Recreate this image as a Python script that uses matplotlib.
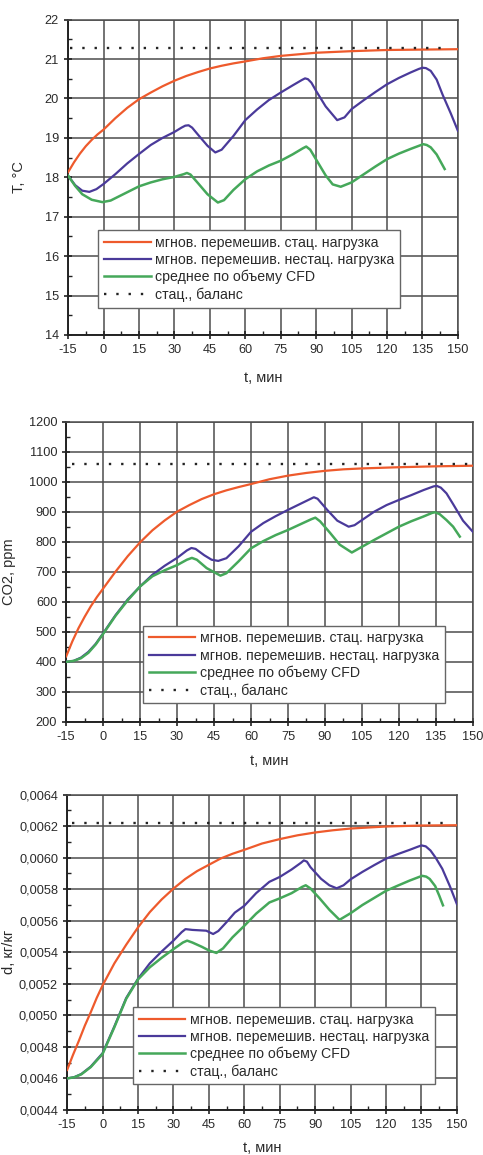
import numpy as np
import matplotlib.pyplot as plt
from matplotlib.ticker import MultipleLocator, FuncFormatter

plt.rcParams['font.family'] = ['Liberation Sans', 'DejaVu Sans']
plt.rcParams['axes.unicode_minus'] = False

# --- температура T, °C ---
t_ust_T = [-15, -12.5, -10, -7.5, -5, -2.5, 0, 5, 10, 15, 20, 25, 30, 35, 40, 45, 50, 55, 60,
           67.5, 75, 82.5, 90, 97.5, 105, 120, 135, 150]
T_ust = [18.13, 18.38, 18.6, 18.79, 18.95, 19.09, 19.21, 19.5, 19.76, 19.98, 20.15, 20.31,
         20.45, 20.57, 20.67, 20.76, 20.83, 20.89, 20.94, 21.02, 21.08, 21.12, 21.16, 21.18,
         21.2, 21.23, 21.24, 21.25]
t_nst_T = [-15, -12, -9, -6, -3, 0, 5, 10, 15, 20, 25, 30, 33, 34.6, 36, 37.5, 40, 44, 47.3, 50,
           55, 60, 65, 70, 75, 80, 84, 85.3, 86.5, 88, 90, 94, 98.9, 102, 105, 110, 115, 120,
           125, 130, 133.5, 135, 136.5, 138.5, 141, 143.5, 147, 150]
T_nst = [18.04, 17.8, 17.66, 17.63, 17.7, 17.83, 18.08, 18.35, 18.59, 18.82, 19.0, 19.15, 19.26,
         19.31, 19.32, 19.26, 19.08, 18.8, 18.63, 18.7, 19.05, 19.45, 19.72, 19.96, 20.15,
         20.33, 20.47, 20.51, 20.49, 20.4, 20.19, 19.8, 19.45, 19.52, 19.73, 19.95, 20.16,
         20.36, 20.52, 20.66, 20.75, 20.78, 20.77, 20.7, 20.48, 20.1, 19.62, 19.18]
t_cfd_T = [-15, -12, -9, -5, -0.5, 3, 7, 11, 15, 20, 25, 30, 34, 35.3, 36.8, 40, 44, 48.4, 51,
           55, 60, 65, 70, 75, 80, 84.5, 85.8, 87.5, 90, 94, 97, 100.4, 105, 110, 115, 120,
           125, 130, 134, 135.3, 136.8, 138.5, 141, 144.4]
T_cfd = [18.04, 17.78, 17.57, 17.43, 17.37, 17.41, 17.53, 17.65, 17.77, 17.87, 17.95, 18.01,
         18.08, 18.11, 18.07, 17.85, 17.57, 17.36, 17.42, 17.68, 17.95, 18.15, 18.3, 18.42,
         18.58, 18.74, 18.78, 18.7, 18.45, 18.05, 17.82, 17.76, 17.87, 18.07, 18.27, 18.46,
         18.6, 18.72, 18.81, 18.84, 18.82, 18.76, 18.58, 18.21]
T_bal = 21.27

# --- CO2, ppm ---
t_ust_C = [-15, -12.5, -10, -7.5, -5, -2.5, 0, 5, 10, 15, 20, 25, 30, 35, 40, 45, 50, 55, 60,
           67.5, 75, 82.5, 90, 97.5, 105, 120, 135, 150]
C_ust = [418, 468, 512, 550, 585, 616, 644, 700, 752, 798, 838, 871, 900, 922, 942, 958, 971,
         982, 992, 1008, 1020, 1029, 1036, 1041, 1044, 1048, 1051, 1053]
t_nst_C = [-15, -12, -9, -6, -3, 0, 5, 10, 15, 20, 25, 30, 34, 35.8, 37.5, 41, 44, 46.7, 50, 55,
           60, 65, 70, 75, 80, 84, 85.5, 87, 91, 95, 99.6, 102, 105, 110, 115, 120, 125, 130,
           134, 135.3, 137, 139.3, 142, 146, 150]
C_nst = [400, 403, 414, 433, 460, 495, 555, 608, 651, 690, 720, 746, 771, 779, 776, 755, 740,
         736, 745, 785, 833, 862, 885, 906, 926, 942, 948, 943, 905, 870, 850, 855, 872, 900,
         922, 939, 955, 972, 984, 986, 980, 961, 925, 870, 833]
t_cfd_C = [-15, -12, -9, -6, -3, 0, 5, 10, 15, 20, 25, 30, 34, 36, 38, 42, 47.6, 50, 55, 60, 65,
           70, 75, 80, 84.5, 86.1, 88, 92, 96, 100.9, 105, 110, 115, 120, 125, 130, 133.5,
           134.6, 136.5, 139.3, 142, 144.7]
C_cfd = [400, 403, 412, 430, 458, 493, 553, 605, 651, 685, 705, 722, 740, 746, 740, 712, 687,
         695, 735, 778, 802, 822, 839, 858, 875, 880, 868, 830, 790, 764, 783, 806, 828, 850,
         868, 884, 896, 898, 892, 872, 850, 817]
C_bal = 1058

# --- влагосодержание d, кг/кг ---
t_ust_d = [-15, -12.5, -10, -7.5, -5, -2.5, 0, 5, 10, 15, 20, 25, 30, 35, 40, 45, 50, 55, 60,
           67.5, 75, 82.5, 90, 97.5, 105, 120, 135, 150]
d_ust = [0.004654, 0.00475, 0.00484, 0.004935, 0.00502, 0.00511, 0.00519, 0.00533, 0.005448,
         0.005558, 0.005655, 0.005735, 0.005804, 0.005865, 0.005915, 0.005955, 0.005995,
         0.006025, 0.00605, 0.00609, 0.006118, 0.006142, 0.00616, 0.006174, 0.006185,
         0.006198, 0.006204, 0.006206]
t_nst_d = [-15, -12, -9, -5, 0, 5, 10, 15, 20, 25, 30, 33.5, 35.1, 38, 43.9, 46.8, 49, 52.4, 56,
           60, 65, 70.6, 75, 80, 84, 85.2, 86.5, 88, 92.5, 96, 99.1, 102, 105, 110, 115, 120,
           125, 130, 133.5, 135, 136.8, 138.8, 141, 143.8, 147, 150]
d_nst = [0.0046, 0.004608, 0.004628, 0.004675, 0.00476, 0.00493, 0.00511, 0.005232, 0.00533,
         0.005405, 0.005474, 0.005528, 0.005547, 0.005542, 0.005537, 0.005516, 0.005535,
         0.00559, 0.005652, 0.005695, 0.005775, 0.005847, 0.005878, 0.005925, 0.005968,
         0.005983, 0.005975, 0.00594, 0.005866, 0.005825, 0.005806, 0.005825, 0.005863,
         0.00591, 0.005953, 0.005994, 0.006023, 0.00605, 0.00607, 0.006078, 0.006072,
         0.006046, 0.006, 0.00593, 0.00582, 0.005705]
t_cfd_d = [-15, -12, -9, -5, 0, 5, 10, 15, 20, 25, 30, 34, 35.8, 38, 42, 45, 48.2, 51, 55, 60,
           65, 70.6, 75, 80, 84.5, 86, 88, 92, 96, 100.3, 105, 110, 115, 120, 125, 130, 134,
           135.3, 137, 138.5, 140.8, 142.5, 144.1]
d_cfd = [0.0046, 0.004607, 0.004626, 0.004672, 0.004755, 0.004925, 0.005105, 0.005228,
         0.005305, 0.005365, 0.00542, 0.005462, 0.005474, 0.005462, 0.005435, 0.005412,
         0.005396, 0.005425, 0.005495, 0.005568, 0.005645, 0.005716, 0.005742, 0.005775,
         0.005815, 0.005825, 0.005805, 0.00574, 0.00567, 0.005606, 0.005648, 0.0057, 0.005745,
         0.00579, 0.005823, 0.005855, 0.005878, 0.005885, 0.00588, 0.005865, 0.00582,
         0.00576, 0.005698]
d_bal = 0.006221

labels = ['мгнов. перемешив. стац. нагрузка',
          'мгнов. перемешив. нестац. нагрузка',
          'среднее по объему CFD',
          'стац., баланс']
c_ust = '#ee5a2c'
c_nst = '#4a3a9a'
c_cfd = '#45a85a'
txt = '#2a2a2a'

fig = plt.figure(figsize=(4.83, 11.55), dpi=100)

panels = [
    dict(rect=[0.141, 0.710, 0.807, 0.273], ylim=(14, 22), major=1, minor=0.5,
         data=(t_ust_T, T_ust, t_nst_T, T_nst, t_cfd_T, T_cfd, T_bal), bal_x=(-14, 144),
         ylabel='T, °C', ylab_x=-0.108, xlab_y=-0.114, leg=(0.077, 0.333), fmt=None),
    dict(rect=[0.137, 0.375, 0.842, 0.260], ylim=(200, 1200), major=100, minor=50,
         data=(t_ust_C, C_ust, t_nst_C, C_nst, t_cfd_C, C_cfd, C_bal), bal_x=(-12.5, 148),
         ylabel='CO2, ppm', ylab_x=-0.124, xlab_y=-0.107, leg=(0.189, 0.32), fmt=None),
    dict(rect=[0.139, 0.039, 0.807, 0.273], ylim=(0.0044, 0.0064), major=0.0002, minor=0.0001,
         data=(t_ust_d, d_ust, t_nst_d, d_nst, t_cfd_d, d_cfd, d_bal), bal_x=(-13, 144),
         ylabel='d, кг/кг', ylab_x=-0.131, xlab_y=-0.098, leg=(0.169, 0.327),
         fmt=lambda v, p: f'{v:.4f}'.replace('.', ',')),
]

for p in panels:
    ax = fig.add_axes(p['rect'])
    tu, yu, tn, yn, tc, yc, yb = p['data']
    ax.plot(tu, yu, color=c_ust, lw=1.6, label=labels[0], zorder=3)
    ax.plot(tn, yn, color=c_nst, lw=1.6, label=labels[1], zorder=3)
    ax.plot(tc, yc, color=c_cfd, lw=1.8, label=labels[2], zorder=3)
    ax.plot(p['bal_x'], [yb, yb], color='#222222', lw=1.7, ls=(0, (1, 4.2)), label=labels[3],
            zorder=3)

    ax.set_xlim(-15, 150)
    ax.set_ylim(*p['ylim'])
    ax.xaxis.set_major_locator(MultipleLocator(15))
    ax.xaxis.set_minor_locator(MultipleLocator(7.5))
    ax.yaxis.set_major_locator(MultipleLocator(p['major']))
    ax.yaxis.set_minor_locator(MultipleLocator(p['minor']))
    if p['fmt']:
        ax.yaxis.set_major_formatter(FuncFormatter(p['fmt']))
    ax.grid(True, which='major', color='#4d4d4d', lw=1.1)
    ax.set_axisbelow(True)
    for s in ax.spines.values():
        s.set_color('#4d4d4d')
        s.set_linewidth(1.1)
    ax.spines['left'].set_color('#222222')
    ax.spines['bottom'].set_color('#222222')
    ax.spines['left'].set_linewidth(1.4)
    ax.spines['bottom'].set_linewidth(1.4)
    ax.tick_params(which='major', direction='inout', length=6, width=1.2, labelsize=9.2,
                   labelcolor=txt, color='#222222')
    ax.tick_params(which='minor', direction='in', length=3, width=1.0, color='#222222')
    ax.tick_params(top=False, right=False, which='both')

    ax.set_xlabel('t, мин', fontsize=10.5, color=txt)
    ax.xaxis.set_label_coords(0.5, p['xlab_y'])
    ax.set_ylabel(p['ylabel'], fontsize=10.5, color=txt)
    ax.yaxis.set_label_coords(p['ylab_x'], 0.5)

    leg = ax.legend(loc='upper left', bbox_to_anchor=p['leg'], fontsize=10.2, frameon=True,
                    fancybox=False, edgecolor='#666666', framealpha=1, handlelength=3.3,
                    handletextpad=0.3, borderpad=0.4, labelspacing=0.22, borderaxespad=0)
    leg.get_frame().set_linewidth(1.0)
    for t in leg.get_texts():
        t.set_color(txt)

fig.savefig('out.png', dpi=100)
